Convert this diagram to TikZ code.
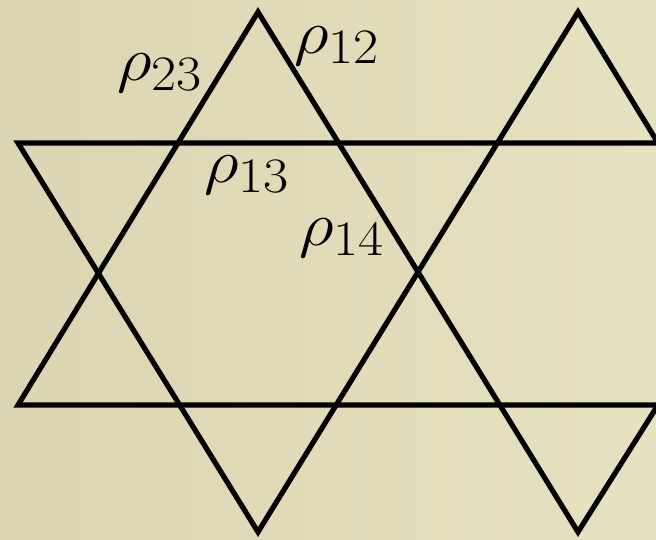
\RequirePackage{fix-cm}
\documentclass[tikz,border=0pt]{standalone}
\DeclareMathSizes{62}{62}{49.6}{37.2}
\definecolor{bgleft}{RGB}{220,213,179}
\definecolor{bgright}{RGB}{230,225,193}
\tikzset{
  latline/.style={line width=5.2pt, draw=black, line join=miter, miter limit=10},
  rholabel/.style={anchor=base west, inner sep=0pt, outer sep=0pt, font=\fontsize{62}{70}\selectfont}
}
\newcommand{\wlab}[1]{\scalebox{1.1}[1]{$#1$}}
\begin{document}
\begin{tikzpicture}[x=1pt,y=-1pt]
\useasboundingbox (0,0) rectangle (656,539);
\shade[left color=bgleft, right color=bgright] (0,0) rectangle (656,539);
% vertices of the lattice
\coordinate (tl) at (18,143);
\coordinate (tr) at (658,143);
\coordinate (bl) at (18,405);
\coordinate (br) at (658,405);
\coordinate (up1) at (258,12);
\coordinate (up2) at (578,12);
\coordinate (dn1) at (258,532);
\coordinate (dn2) at (578,532);
\begin{scope}
\clip (0,0) rectangle (656,539);
\draw[latline] (tl) -- (tr) -- (up2) -- (dn1) -- cycle;
\draw[latline] (bl) -- (br) -- (dn2) -- (up1) -- cycle;
\end{scope}
% labels
\node[rholabel] (r23) at (117,80) {\wlab{\rho_{23}}};
\node[rholabel] (r12) at (294,53) {\wlab{\rho_{12}}};
\node[rholabel] (r13) at (204,182) {\wlab{\rho_{13}}};
\node[rholabel] (r14) at (299,245) {\wlab{\rho_{14}}};
\end{tikzpicture}
\end{document}
